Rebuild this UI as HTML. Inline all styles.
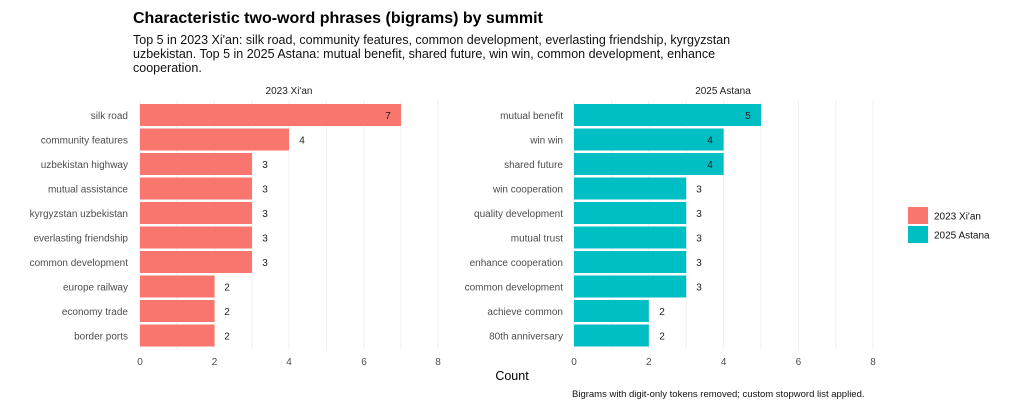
<!DOCTYPE html>
<html><head><style>
body{margin:0;background:#fff;font-family:"Liberation Sans",sans-serif;}
svg text{font-family:"Liberation Sans",sans-serif;}
</style></head><body>
<svg width="1024" height="412" xmlns="http://www.w3.org/2000/svg">
<rect width="1024" height="412" fill="#fff"/>
<text x="133" y="23" font-size="16" font-weight="bold" fill="#000">Characteristic two-word phrases (bigrams) by summit</text>
<text x="133" y="44" font-size="12.5" fill="#111">Top 5 in 2023 Xi'an: silk road, community features, common development, everlasting friendship, kyrgyzstan</text>
<text x="133" y="58" font-size="12.5" fill="#111">uzbekistan. Top 5 in 2025 Astana: mutual benefit, shared future, win win, common development, enhance</text>
<text x="133" y="72" font-size="12.5" fill="#111">cooperation.</text>
<text x="289" y="94" font-size="10" fill="#222" text-anchor="middle">2023 Xi'an</text>
<text x="723" y="94" font-size="10" fill="#222" text-anchor="middle">2025 Astana</text>
<g stroke="#ebebeb" stroke-width="0.8">
<line x1="140" y1="101" x2="140" y2="349"/><line x1="177" y1="101" x2="177" y2="349"/><line x1="214.5" y1="101" x2="214.5" y2="349"/><line x1="252" y1="101" x2="252" y2="349"/><line x1="289" y1="101" x2="289" y2="349"/><line x1="326.5" y1="101" x2="326.5" y2="349"/><line x1="364" y1="101" x2="364" y2="349"/><line x1="401" y1="101" x2="401" y2="349"/><line x1="438" y1="101" x2="438" y2="349"/>
<line x1="574" y1="101" x2="574" y2="349"/><line x1="611.4" y1="101" x2="611.4" y2="349"/><line x1="648.8" y1="101" x2="648.8" y2="349"/><line x1="686.2" y1="101" x2="686.2" y2="349"/><line x1="723.6" y1="101" x2="723.6" y2="349"/><line x1="761" y1="101" x2="761" y2="349"/><line x1="798.4" y1="101" x2="798.4" y2="349"/><line x1="835.8" y1="101" x2="835.8" y2="349"/><line x1="873" y1="101" x2="873" y2="349"/>
</g>
<g fill="#F8766D">
<rect x="140" y="104" width="261" height="22"/>
<rect x="140" y="128.5" width="149" height="22"/>
<rect x="140" y="153" width="112" height="22"/>
<rect x="140" y="177.5" width="112" height="22"/>
<rect x="140" y="202" width="112" height="22"/>
<rect x="140" y="226.5" width="112" height="22"/>
<rect x="140" y="251" width="112" height="22"/>
<rect x="140" y="275.5" width="74.5" height="22"/>
<rect x="140" y="300" width="74.5" height="22"/>
<rect x="140" y="324.5" width="74.5" height="22"/>
</g>
<g fill="#00BFC4">
<rect x="574" y="104" width="187" height="22"/>
<rect x="574" y="128.5" width="149.6" height="22"/>
<rect x="574" y="153" width="149.6" height="22"/>
<rect x="574" y="177.5" width="112.2" height="22"/>
<rect x="574" y="202" width="112.2" height="22"/>
<rect x="574" y="226.5" width="112.2" height="22"/>
<rect x="574" y="251" width="112.2" height="22"/>
<rect x="574" y="275.5" width="112.2" height="22"/>
<rect x="574" y="300" width="74.8" height="22"/>
<rect x="574" y="324.5" width="74.8" height="22"/>
</g>
<g font-size="10" fill="#4d4d4d" text-anchor="end">
<text x="128" y="119">silk road</text><text x="128" y="143.5">community features</text><text x="128" y="168">uzbekistan highway</text><text x="128" y="192.5">mutual assistance</text><text x="128" y="217">kyrgyzstan uzbekistan</text><text x="128" y="241.5">everlasting friendship</text><text x="128" y="266">common development</text><text x="128" y="290.5">europe railway</text><text x="128" y="315">economy trade</text><text x="128" y="339.5">border ports</text>
<text x="563" y="119">mutual benefit</text><text x="563" y="143.5">win win</text><text x="563" y="168">shared future</text><text x="563" y="192.5">win cooperation</text><text x="563" y="217">quality development</text><text x="563" y="241.5">mutual trust</text><text x="563" y="266">enhance cooperation</text><text x="563" y="290.5">common development</text><text x="563" y="315">achieve common</text><text x="563" y="339.5">80th anniversary</text>
</g>
<g font-size="10" fill="#222" text-anchor="middle">
<text x="388" y="119">7</text><text x="302" y="143.5">4</text><text x="265" y="168">3</text><text x="265" y="192.5">3</text><text x="265" y="217">3</text><text x="265" y="241.5">3</text><text x="265" y="266">3</text><text x="227" y="290.5">2</text><text x="227" y="315">2</text><text x="227" y="339.5">2</text>
<text x="748" y="119">5</text><text x="710" y="143.5">4</text><text x="710" y="168">4</text><text x="699" y="192.5">3</text><text x="699" y="217">3</text><text x="699" y="241.5">3</text><text x="699" y="266">3</text><text x="699" y="290.5">3</text><text x="662" y="315">2</text>
<text x="662" y="339.5">2</text>
</g>
<g font-size="10" fill="#4d4d4d" text-anchor="middle">
<text x="140" y="365">0</text><text x="214.5" y="365">2</text><text x="289" y="365">4</text><text x="364" y="365">6</text><text x="438" y="365">8</text>
<text x="574" y="365">0</text><text x="648.8" y="365">2</text><text x="723.6" y="365">4</text><text x="798.4" y="365">6</text><text x="873" y="365">8</text>
</g>
<text x="512" y="380" font-size="12.5" fill="#000" text-anchor="middle">Count</text>
<text x="572" y="397" font-size="9.5" fill="#111">Bigrams with digit-only tokens removed; custom stopword list applied.</text>
<rect x="908" y="207" width="20" height="17" fill="#F8766D"/>
<rect x="908" y="226" width="20" height="17" fill="#00BFC4"/>
<text x="934" y="219.5" font-size="10" fill="#111">2023 Xi'an</text>
<text x="934" y="238.5" font-size="10" fill="#111">2025 Astana</text>
</svg>
</body></html>
